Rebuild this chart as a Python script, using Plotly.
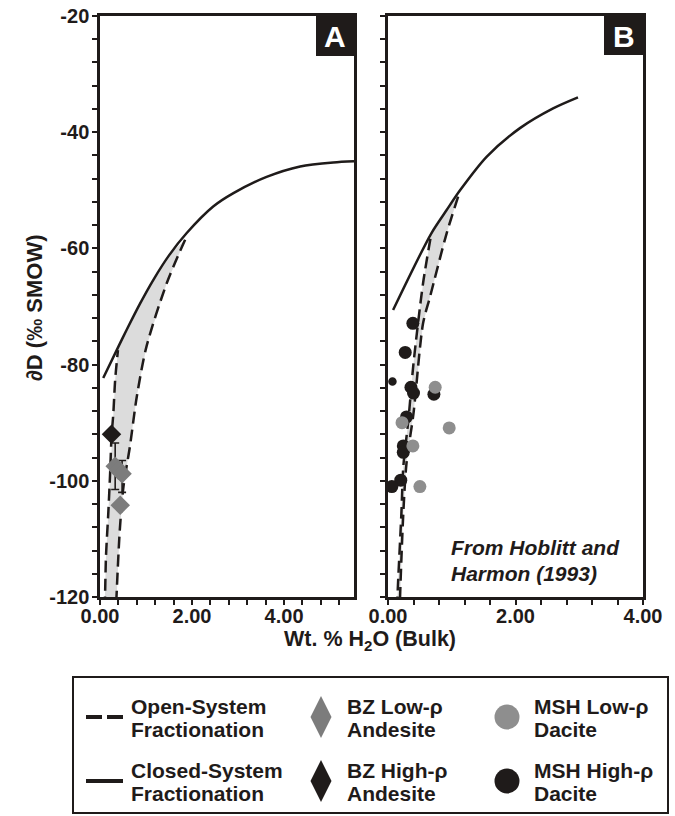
import plotly.graph_objects as go

W, H = 675, 816

# ---------------- data ----------------
# Panel A
closedA_x = [0.07, 0.40, 0.58, 0.87, 1.16, 1.50, 1.88, 2.46, 2.90, 3.62, 4.35, 5.07, 5.52]
closedA_y = [-82.3, -76.9, -74.0, -69.5, -65.4, -61.2, -57.4, -52.8, -50.5, -47.7, -45.9, -45.2, -45.0]
openA1_x = [0.10, 0.11, 0.13, 0.18, 0.22, 0.25, 0.29, 0.33, 0.39]
openA1_y = [-122, -119.7, -113.0, -105.6, -98.7, -92.5, -88.4, -82.6, -77.5]
openA2_x = [1.85, 1.45, 1.01, 0.80, 0.65, 0.51, 0.43, 0.36, 0.35]
openA2_y = [-58.5, -66.0, -76.9, -85.5, -94.1, -101.0, -108.5, -119.7, -122]

bzLow_x = [0.33, 0.40, 0.48, 0.44]
bzLow_y = [-97.5, -98.2, -98.8, -104.2]
bzLow_err_plus = [4.0, 0, 2.3, 0]
bzLow_err_minus = [4.0, 0, 3.2, 0]
bzHigh_x = [0.25]
bzHigh_y = [-92.0]

# Panel B
closedB_x = [0.08, 0.68, 0.92, 1.13, 1.55, 2.07, 2.59, 2.98]
closedB_y = [-70.6, -57.4, -53.4, -50.0, -44.2, -39.3, -35.9, -34.0]
openB1_x = [0.14, 0.16, 0.21, 0.24, 0.32, 0.40, 0.55, 0.68]
openB1_y = [-122, -117.0, -105.6, -97.6, -89.5, -79.8, -66.0, -57.4]
openB2_x = [1.10, 0.92, 0.66, 0.55, 0.40, 0.29, 0.24, 0.19, 0.185]
openB2_y = [-51.1, -57.4, -68.3, -72.9, -88.4, -97.0, -105.6, -119.7, -122]

mshHigh_x = [0.39, 0.27, 0.36, 0.40, 0.72, 0.29, 0.24, 0.24, 0.20, 0.06]
mshHigh_y = [-72.9, -77.9, -83.9, -84.9, -85.1, -89.0, -94.0, -95.1, -99.9, -101.0]
mshHighSmall_x = [0.07]
mshHighSmall_y = [-82.9]
mshLow_x = [0.74, 0.22, 0.96, 0.39, 0.50]
mshLow_y = [-83.9, -90.0, -90.9, -94.0, -101.0]

y_ticks = [-120, -100, -80, -60, -40, -20]
y_ticktext = ["-120", "-100", "-80", "-60", "-40", "-20"]
x_ticks = [0, 2, 4]
x_ticktext = ["0.00", "2.00", "4.00"]

legend_items = [
    ("Open-System", "Fractionation"),
    ("Closed-System", "Fractionation"),
    ("BZ Low-\u03c1", "Andesite"),
    ("BZ High-\u03c1", "Andesite"),
    ("MSH Low-\u03c1", "Dacite"),
    ("MSH High-\u03c1", "Dacite"),
]

# ---------------- style ----------------
BLACK = "#1f1b1a"
GRAY_C = "#8e8e8e"
GRAY_D = "#7c7c7c"
FILL = "#dcdcdc"
FONT = "Liberation Sans, Arial, sans-serif"
DASH = "12px,6px"

fig = go.Figure()


def band(x1, y1, cx, cy, x2, y2, xa, ya, xmin, xmax):
    seg = [(a, b) for a, b in zip(cx, cy) if xmin <= a <= xmax]
    xs = list(x1) + [p[0] for p in seg] + list(x2)
    ys = list(y1) + [p[1] for p in seg] + list(y2)
    fig.add_trace(go.Scatter(x=xs, y=ys, fill="toself", fillcolor=FILL, mode="lines",
                             line=dict(width=0), xaxis=xa, yaxis=ya, showlegend=False,
                             hoverinfo="skip"))


band(openA1_x, openA1_y, closedA_x, closedA_y, openA2_x, openA2_y, "x", "y", 0.41, 1.84)
band(openB1_x, openB1_y, closedB_x, closedB_y, openB2_x, openB2_y, "x2", "y2", 0.69, 1.09)


def curve(x, y, xa, ya, dash=None):
    fig.add_trace(go.Scatter(x=x, y=y, mode="lines", xaxis=xa, yaxis=ya, showlegend=False,
                             line=dict(color=BLACK, width=2.5, dash=dash, shape="spline", smoothing=0.8),
                             hoverinfo="skip"))


curve(closedA_x, closedA_y, "x", "y")
curve(openA1_x, openA1_y, "x", "y", DASH)
curve(openA2_x, openA2_y, "x", "y", DASH)
curve(closedB_x, closedB_y, "x2", "y2")
curve(openB1_x, openB1_y, "x2", "y2", DASH)
curve(openB2_x, openB2_y, "x2", "y2", DASH)

# Panel A points
fig.add_trace(go.Scatter(x=bzLow_x, y=bzLow_y, mode="markers", xaxis="x", yaxis="y", showlegend=False,
                         marker=dict(symbol="diamond", size=15, color=GRAY_D),
                         error_y=dict(type="data", array=bzLow_err_plus, arrayminus=bzLow_err_minus,
                                      color=BLACK, thickness=1.6, width=4)))
fig.add_trace(go.Scatter(x=bzHigh_x, y=bzHigh_y, mode="markers", xaxis="x", yaxis="y", showlegend=False,
                         marker=dict(symbol="diamond", size=15, color=BLACK)))

# Panel B points
fig.add_trace(go.Scatter(x=mshHighSmall_x, y=mshHighSmall_y, mode="markers", xaxis="x2", yaxis="y2",
                         showlegend=False, cliponaxis=False,
                         marker=dict(symbol="circle", size=10, color=BLACK, line=dict(color="white", width=1.5))))
fig.add_trace(go.Scatter(x=mshHigh_x, y=mshHigh_y, mode="markers", xaxis="x2", yaxis="y2", showlegend=False,
                         cliponaxis=False, marker=dict(symbol="circle", size=13, color=BLACK)))
fig.add_trace(go.Scatter(x=mshLow_x, y=mshLow_y, mode="markers", xaxis="x2", yaxis="y2", showlegend=False,
                         cliponaxis=False, marker=dict(symbol="circle", size=13, color=GRAY_C)))

# ---------------- overlay (pixel) axis for legend & labels ----------------
row1, row2 = 717, 781
fig.add_trace(go.Scatter(x=[86, 123], y=[row1, row1], mode="lines", xaxis="x3", yaxis="y3", showlegend=False,
                         line=dict(color=BLACK, width=4, dash="16px,5px"), hoverinfo="skip"))
fig.add_trace(go.Scatter(x=[86, 123], y=[row2, row2], mode="lines", xaxis="x3", yaxis="y3", showlegend=False,
                         line=dict(color=BLACK, width=4), hoverinfo="skip"))
fig.add_trace(go.Scatter(x=[321, 321], y=[row1, row2], mode="markers", xaxis="x3", yaxis="y3", showlegend=False,
                         marker=dict(symbol="diamond-tall", size=30, color=[GRAY_D, BLACK]), hoverinfo="skip"))
fig.add_trace(go.Scatter(x=[507, 507], y=[row1, row2], mode="markers", xaxis="x3", yaxis="y3", showlegend=False,
                         marker=dict(symbol="circle", size=25, color=[GRAY_C, BLACK]), hoverinfo="skip"))

annotations = []
text_x = [129, 129, 345, 345, 532, 532]
text_row = [row1, row2, row1, row2, row1, row2]
for (l1, l2), tx, ty in zip(legend_items, text_x, text_row):
    for line, dy in ((l1, -11), (l2, 12)):
        annotations.append(dict(x=tx, y=ty + dy, xref="x3", yref="y3", text=line, showarrow=False,
                                xanchor="left", yanchor="middle",
                                font=dict(family=FONT, size=21, color=BLACK, weight="bold")))

# panel letters
for (x0, x1), letter in (((316, 354), "A"), ((604, 643), "B")):
    annotations.append(dict(x=(x0 + x1) / 2, y=36, xref="x3", yref="y3", text=letter, showarrow=False,
                            xanchor="center", yanchor="middle",
                            font=dict(family=FONT, size=30, color="white", weight="bold")))

# axis titles
annotations.append(dict(x=34, y=308, xref="x3", yref="y3", text="\u2202D (\u2030 SMOW)", showarrow=False,
                        textangle=-90, xanchor="center", yanchor="middle",
                        font=dict(family=FONT, size=22, color=BLACK, weight="bold")))
annotations.append(dict(x=370, y=640, xref="x3", yref="y3", text="Wt. % H<sub>2</sub>O (Bulk)", showarrow=False,
                        xanchor="center", yanchor="middle",
                        font=dict(family=FONT, size=21.5, color=BLACK, weight="bold")))
# source note
for line, yy in (("From Hoblitt and", 547), ("Harmon (1993)", 573)):
    annotations.append(dict(x=449, y=yy, xref="x3", yref="y3", text=line, showarrow=False,
                            xanchor="left", yanchor="middle",
                            font=dict(family=FONT, size=21, color=BLACK, weight="bold", style="italic")))

shapes = [
    dict(type="rect", xref="x3", yref="y3", x0=316, x1=354, y0=16, y1=56, fillcolor=BLACK, line=dict(width=0)),
    dict(type="rect", xref="x3", yref="y3", x0=604, x1=643, y0=16, y1=55, fillcolor=BLACK, line=dict(width=0)),
    dict(type="rect", xref="x3", yref="y3", x0=73, x1=668, y0=677, y1=813,
         line=dict(color=BLACK, width=2), fillcolor="rgba(0,0,0,0)"),
]


def px(v):
    return v / W


def py(v):
    return 1 - v / H


tickfont = dict(family=FONT, size=20, color=BLACK, weight="bold")
common_x = dict(tickvals=x_ticks, ticktext=x_ticktext, ticks="outside", ticklen=5, tickwidth=2,
                tickcolor=BLACK, showline=True, linewidth=2.5, linecolor=BLACK, mirror=True,
                showgrid=False, zeroline=False, tickfont=tickfont, automargin=False,
                ticklabelstandoff=-6,
                minor=dict(dtick=0.4, tick0=0, ticks="outside", ticklen=5, tickwidth=2, tickcolor=BLACK,
                           showgrid=False))
common_y = dict(tickvals=y_ticks, ticktext=y_ticktext, ticks="outside", ticklen=5, tickwidth=2,
                tickcolor=BLACK, showline=True, linewidth=2.5, linecolor=BLACK, mirror=True,
                showgrid=False, zeroline=False, tickfont=tickfont, range=[-120, -20], automargin=False,
                ticklabelstandoff=-1,
                minor=dict(dtick=4, tick0=-20, ticks="outside", ticklen=5, tickwidth=2, tickcolor=BLACK,
                           showgrid=False))

fig.update_layout(
    width=W, height=H, autosize=False,
    margin=dict(l=0, r=0, t=0, b=0, pad=0, autoexpand=False),
    paper_bgcolor="white", plot_bgcolor="rgba(0,0,0,0)",
    showlegend=False,
    xaxis=dict(domain=[px(100), px(354)], range=[0, 5.52], anchor="y", **common_x),
    yaxis=dict(domain=[py(597), py(16)], anchor="x", **common_y),
    xaxis2=dict(domain=[px(388), px(643)], range=[0, 4], anchor="y2", **common_x),
    yaxis2=dict(domain=[py(597), py(16)], anchor="x2", showticklabels=False, **common_y),
    xaxis3=dict(domain=[0, 1], range=[0, W], anchor="y3", visible=False, showticklabels=False,
                automargin=False, fixedrange=True),
    yaxis3=dict(domain=[0, 1], range=[H, 0], anchor="x3", visible=False, showticklabels=False,
                automargin=False, fixedrange=True),
    annotations=annotations,
    shapes=shapes,
)

fig.write_html("out.html")
